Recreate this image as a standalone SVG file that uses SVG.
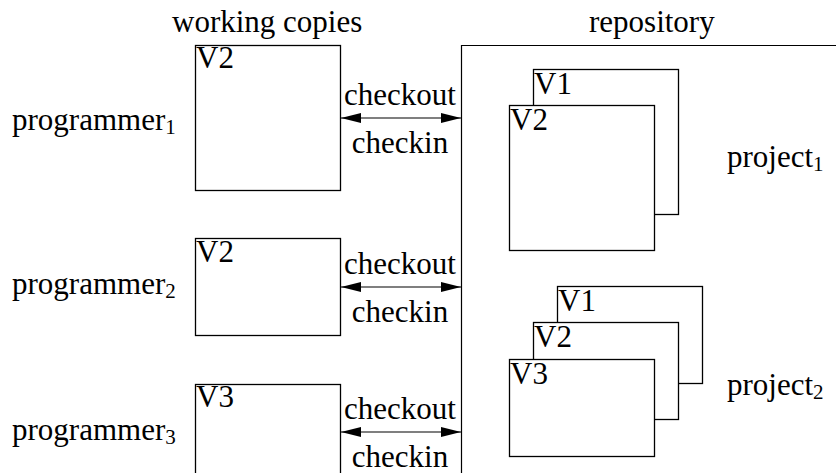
<svg xmlns="http://www.w3.org/2000/svg" width="836" height="473" viewBox="0 0 836 473" font-family="Liberation Serif, Times New Roman, serif">
<style>
text{font-size:31px;fill:#000}
.sub{font-size:21px}
.box{fill:#fff;stroke:#000;stroke-width:1.3}
.conn{stroke:#000;stroke-width:1.2;fill:none}
</style>
<defs>
<marker id="ah" viewBox="0 0 20 10" refX="20" refY="5" markerWidth="20" markerHeight="10" markerUnits="userSpaceOnUse" orient="auto-start-reverse">
<path d="M0,0 L20,5 L0,10 Z" fill="#000"/>
</marker>
</defs>
<rect width="836" height="473" fill="#fff"/>
<text x="172" y="32" font-family="Liberation Serif">working copies</text>
<text x="589" y="32" font-family="Liberation Serif">repository</text>
<g id="repository">
<path class="conn" d="M461.5,473 V45.5 H836"/>
</g>
<g id="wc1">
<rect class="box" x="195.5" y="45.5" width="145" height="145"/>
<text x="196" y="68" font-family="Liberation Serif">V2</text>
</g>
<g id="wc2">
<rect class="box" x="195.5" y="238.5" width="145" height="97"/>
<text x="196" y="262" font-family="Liberation Serif">V2</text>
</g>
<g id="wc3">
<rect class="box" x="195.5" y="384.5" width="145" height="97"/>
<text x="196" y="407" font-family="Liberation Serif">V3</text>
</g>
<g id="prog1"><text x="12" y="130" font-family="Liberation Serif">programmer<tspan class="sub" dy="4">1</tspan></text></g>
<g id="prog2"><text x="12" y="294" font-family="Liberation Serif">programmer<tspan class="sub" dy="4">2</tspan></text></g>
<g id="prog3"><text x="12" y="440" font-family="Liberation Serif">programmer<tspan class="sub" dy="4">3</tspan></text></g>
<g id="project1">
<rect class="box" x="533.5" y="69.5" width="145" height="145"/>
<text x="534" y="94" font-family="Liberation Serif">V1</text>
<rect class="box" x="509.5" y="105.5" width="145" height="145"/>
<text x="510" y="130" font-family="Liberation Serif">V2</text>
<text x="727" y="167" font-family="Liberation Serif">project<tspan class="sub" dy="4">1</tspan></text>
</g>
<g id="project2">
<rect class="box" x="557.5" y="286.5" width="145" height="97"/>
<text x="558" y="311" font-family="Liberation Serif">V1</text>
<rect class="box" x="533.5" y="322.5" width="145" height="97"/>
<text x="534" y="347" font-family="Liberation Serif">V2</text>
<rect class="box" x="509.5" y="359.5" width="145" height="97"/>
<text x="510" y="384" font-family="Liberation Serif">V3</text>
<text x="727" y="395" font-family="Liberation Serif">project<tspan class="sub" dy="4">2</tspan></text>
</g>
<g id="connectors">
<line class="conn" x1="341" y1="118" x2="461" y2="118" marker-start="url(#ah)" marker-end="url(#ah)"/>
<line class="conn" x1="341" y1="287" x2="461" y2="287" marker-start="url(#ah)" marker-end="url(#ah)"/>
<line class="conn" x1="341" y1="432" x2="461" y2="432" marker-start="url(#ah)" marker-end="url(#ah)"/>
<text x="400" y="105" text-anchor="middle" font-family="Liberation Serif">checkout</text>
<text x="400" y="153" text-anchor="middle" font-family="Liberation Serif">checkin</text>
<text x="400" y="274" text-anchor="middle" font-family="Liberation Serif">checkout</text>
<text x="400" y="322" text-anchor="middle" font-family="Liberation Serif">checkin</text>
<text x="400" y="419" text-anchor="middle" font-family="Liberation Serif">checkout</text>
<text x="400" y="467" text-anchor="middle" font-family="Liberation Serif">checkin</text>
</g>
</svg>
